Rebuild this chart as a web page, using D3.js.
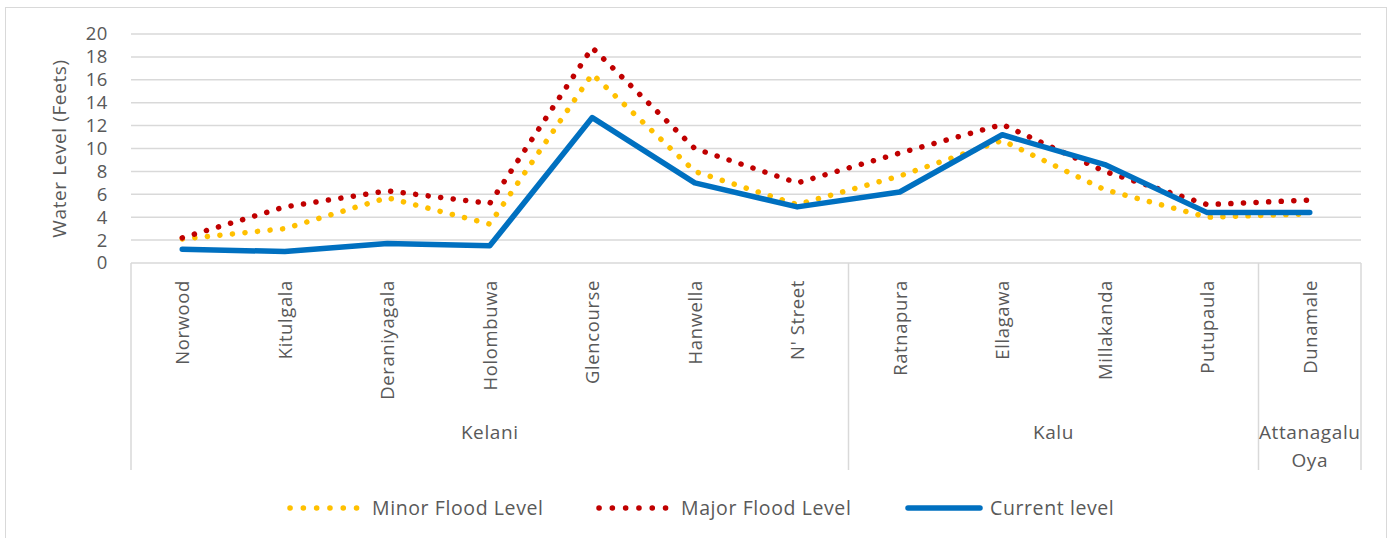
<!DOCTYPE html>
<html>
<head>
<meta charset="utf-8">
<title>Water Level</title>
<script src="https://d3js.org/d3.v7.min.js"></script>
<style>
  body { margin:0; background:#fff; }
  text { font-family: "Open Sans", sans-serif; fill:#595959; letter-spacing:0.6px; }
</style>
</head>
<body>
<svg width="1394" height="538"></svg>
<script>
// data
var stations = ["Norwood","Kitulgala","Deraniyagala","Holombuwa","Glencourse","Hanwella","N' Street",
                "Ratnapura","Ellagawa","Millakanda","Putupaula","Dunamale"];
var rivers = [
  {name:["Kelani"], first:"Norwood", last:"N' Street"},
  {name:["Kalu"], first:"Ratnapura", last:"Putupaula"},
  {name:["Attanagalu","Oya"], first:"Dunamale", last:"Dunamale"}
];
var minorFlood = [2.1, 3.0, 5.7, 3.4, 16.5, 8.0, 5.1, 7.6, 10.7, 6.4, 4.0, 4.3];
var majorFlood = [2.2, 4.9, 6.3, 5.2, 18.8, 10.0, 7.0, 9.6, 12.1, 8.0, 5.1, 5.5];
var currentLevel = [1.2, 1.0, 1.7, 1.5, 12.7, 7.0, 4.9, 6.2, 11.2, 8.6, 4.4, 4.4];
var yTicks = [0,2,4,6,8,10,12,14,16,18,20];

var series = [
  {name:"Minor Flood Level", values:minorFlood, color:"#FFC000", dotted:true},
  {name:"Major Flood Level", values:majorFlood, color:"#C00000", dotted:true},
  {name:"Current level", values:currentLevel, color:"#0070C0", dotted:false}
];

var svg = d3.select("svg");
var pLeft = 131, pRight = 1361, pTop = 34, pBottom = 263;

// outer border
svg.append("rect").attr("x",5.5).attr("y",7.5).attr("width",1381).attr("height",540)
  .attr("fill","none").attr("stroke","#d9d9d9").attr("stroke-width",1);

var x = d3.scaleBand().domain(stations).range([pLeft,pRight]);
var y = d3.scaleLinear().domain([0,20]).range([pBottom,pTop]);

// gridlines
svg.append("g").selectAll("line").data(yTicks.filter(function(d){return d>0;})).enter().append("line")
  .attr("x1",pLeft).attr("x2",pRight)
  .attr("y1",function(d){return y(d);}).attr("y2",function(d){return y(d);})
  .attr("stroke","#d9d9d9").attr("stroke-width",1.5);

// y axis labels
var yAxis = d3.axisLeft(y).tickValues(yTicks).tickSize(0).tickPadding(23);
var ya = svg.append("g").attr("transform","translate("+pLeft+",0)").call(yAxis);
ya.select(".domain").remove();
ya.selectAll("text").style("font-size","18.5px").style("fill","#595959")
  .style("font-family",'"Open Sans", sans-serif');

svg.append("text").attr("transform","translate(66,"+((pTop+pBottom)/2)+") rotate(-90)")
  .attr("text-anchor","middle").style("font-size","19px").text("Water Level  (Feets)");

// category axis box
var catBottom = 470;
svg.append("line").attr("x1",pLeft).attr("x2",pRight).attr("y1",pBottom).attr("y2",pBottom)
  .attr("stroke","#d9d9d9").attr("stroke-width",1.5);
var dividers = [stations[0]].concat(rivers.map(function(r){return r.last;}));
svg.append("g").selectAll("line").data(dividers).enter().append("line")
  .attr("x1",function(d,i){return i===0 ? x(d) : x(d)+x.bandwidth();})
  .attr("x2",function(d,i){return i===0 ? x(d) : x(d)+x.bandwidth();})
  .attr("y1",pBottom).attr("y2",catBottom)
  .attr("stroke","#d9d9d9").attr("stroke-width",1.5);

// station labels
svg.append("g").selectAll("text").data(stations).enter().append("text")
  .attr("transform",function(d){return "translate("+(x(d)+x.bandwidth()/2+7)+",280) rotate(-90)";})
  .attr("text-anchor","end").style("font-size","18.5px").text(function(d){return d;});

// river labels
rivers.forEach(function(r){
  var cx = (x(r.first) + x(r.last) + x.bandwidth())/2;
  var t = svg.append("text").attr("text-anchor","middle").style("font-size","19px");
  r.name.forEach(function(n,i){
    t.append("tspan").attr("x",cx).attr("y",439 + i*28).text(n);
  });
});

// lines
var line = d3.line()
  .x(function(d,i){return x(stations[i]) + x.bandwidth()/2;})
  .y(function(d){return y(d);});

series.forEach(function(s){
  svg.append("path").datum(s.values).attr("d",line)
    .attr("fill","none").attr("stroke",s.color)
    .attr("stroke-width", s.dotted ? 5.5 : 5.5)
    .attr("stroke-linecap","round").attr("stroke-linejoin","round")
    .attr("stroke-dasharray", s.dotted ? "0.1 12.5" : null);
});

// legend
var legendX = [290, 599, 908];
var leg = svg.append("g").selectAll("g").data(series).enter().append("g")
  .attr("transform",function(d,i){return "translate("+legendX[i]+",508)";});
leg.append("line").attr("x1",0).attr("x2",function(d){return d.dotted ? 67 : 72;}).attr("y1",0).attr("y2",0)
  .attr("stroke",function(d){return d.color;})
  .attr("stroke-width",function(d){return d.dotted ? 5.5 : 5.5;})
  .attr("stroke-linecap","round")
  .attr("stroke-dasharray",function(d){return d.dotted ? "0.1 13.2" : null;});
leg.append("text").attr("x",82).attr("y",7)
  .style("font-size","19.5px").text(function(d){return d.name;});
</script>
</body>
</html>
